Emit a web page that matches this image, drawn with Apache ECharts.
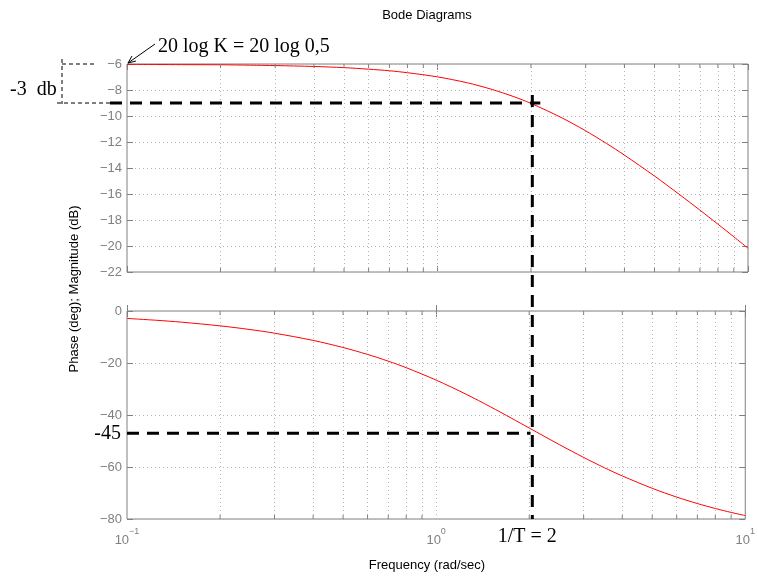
<!DOCTYPE html>
<html>
<head>
<meta charset="utf-8">
<script src="https://cdn.jsdelivr.net/npm/echarts@6/dist/echarts.min.js"></script>
<style>
html, body { margin: 0; padding: 0; background: #fff; }
#main { width: 758px; height: 577px; }
</style>
</head>
<body>
<div id="main"></div>
<script>
// frequency samples (rad/sec)
var freq = [0.1, 0.125, 0.15, 0.2, 0.25, 0.3, 0.4, 0.5, 0.6, 0.7, 0.8, 1, 1.25, 1.5, 1.75, 2, 2.5, 3, 3.5, 4, 5, 6, 7, 8, 9, 10];
var magnitude = [-6.03, -6.04, -6.05, -6.06, -6.09, -6.12, -6.19, -6.28, -6.40, -6.52, -6.67, -6.99, -7.45, -7.96, -8.49, -9.03, -10.11, -11.14, -12.11, -13.01, -14.62, -16.02, -17.24, -18.32, -19.29, -20.17];
var phase = [-2.86, -3.58, -4.29, -5.71, -7.13, -8.53, -11.31, -14.04, -16.70, -19.29, -21.80, -26.57, -32.01, -36.87, -41.19, -45.00, -51.34, -56.31, -60.26, -63.43, -68.20, -71.57, -74.05, -75.96, -77.47, -78.69];
// minor positions of the log axis (grid lines + small ticks)
var logGrid = [0.2, 0.3, 0.4, 0.5, 0.6, 0.7, 0.8, 0.9, 1, 2, 3, 4, 5, 6, 7, 8, 9];
// hand drawn annotation lines, as placed in the picture
var dcGain = -6;
var markFreq = 2.02;
var markMag = -9;
var markPhase = -47;

var gray = '#808080';
var gridGray = '#b4b4b4';
var sans = '"Liberation Sans", Arial, sans-serif';
var serif = '"Liberation Serif", "Times New Roman", serif';

function minus(v) { return String(v).replace('-', '\u2212'); }

function pairs(ys) {
	var out = [];
	for (var i = 0; i < freq.length; i++) out.push([freq[i], ys[i]]);
	return out;
}

var chart = echarts.init(document.getElementById('main'));

function xAx(grid, pos, labels) {
	return {
		type: 'log', logBase: 10, min: 0.1, max: 10, gridIndex: grid, position: pos,
		axisLine: { show: false },
		axisTick: { show: true, inside: true, length: 6, lineStyle: { color: gray } },
		axisLabel: {
			show: labels, color: gray, margin: 8, fontFamily: sans,
			formatter: function (v) {
				var e = Math.round(Math.log(v) / Math.LN10);
				return '{b|10}{s|' + minus(e) + '}';
			},
			rich: {
				b: { fontSize: 13, color: gray, fontFamily: sans, lineHeight: 18, verticalAlign: 'bottom' },
				s: { fontSize: 9, color: gray, fontFamily: sans, lineHeight: 20, verticalAlign: 'top' }
			}
		},
		splitLine: { show: false }
	};
}

function yAx(grid, pos, min, max, step, labels) {
	return {
		type: 'value', gridIndex: grid, position: pos, min: min, max: max, interval: step,
		axisLine: { show: false },
		axisTick: { show: true, inside: true, length: 6, lineStyle: { color: gray } },
		axisLabel: { show: labels, color: gray, fontSize: 13, fontFamily: sans, margin: 5, formatter: minus },
		splitLine: { show: labels, lineStyle: { color: gridGray, type: [1, 3], width: 1 } }
	};
}

function gridSeries(idx) {
	return {
		type: 'line', xAxisIndex: idx * 2, yAxisIndex: idx * 2, data: [], silent: true,
		markLine: {
			silent: true, symbol: 'none', label: { show: false }, animation: false,
			lineStyle: { color: gridGray, type: [1, 3], width: 1 },
			data: logGrid.map(function (f) { return { xAxis: f }; })
		}
	};
}

chart.setOption({
	animation: false,
	grid: [
		{ left: 127, right: 10, top: 64, height: 208, show: true, borderColor: gray, borderWidth: 1, backgroundColor: 'transparent' },
		{ left: 127, right: 10, top: 311, height: 208, show: true, borderColor: gray, borderWidth: 1, backgroundColor: 'transparent' }
	],
	xAxis: [xAx(0, 'bottom', false), xAx(0, 'top', false), xAx(1, 'bottom', true), xAx(1, 'top', false)],
	yAxis: [yAx(0, 'left', -22, -6, 2, true), yAx(0, 'right', -22, -6, 2, false),
		yAx(1, 'left', -80, 0, 20, true), yAx(1, 'right', -80, 0, 20, false)],
	series: [
		gridSeries(0),
		gridSeries(1),
		{ name: 'Magnitude', type: 'line', xAxisIndex: 0, yAxisIndex: 0, data: pairs(magnitude), showSymbol: false, smooth: 0.3, z: 5,
			lineStyle: { color: '#ff0000', width: 1 } },
		{ name: 'Phase', type: 'line', xAxisIndex: 2, yAxisIndex: 2, data: pairs(phase), showSymbol: false, smooth: 0.3, z: 5,
			lineStyle: { color: '#ff0000', width: 1 } }
	]
});

// annotations placed from the axes' own scales
var pDc = chart.convertToPixel({ seriesIndex: 2 }, [0.1, dcGain]);
var pMag = chart.convertToPixel({ seriesIndex: 2 }, [markFreq, markMag]);
var pPh = chart.convertToPixel({ seriesIndex: 3 }, [markFreq, markPhase]);
var pLow = chart.convertToPixel({ seriesIndex: 3 }, [markFreq, -80]);
var left = pDc[0];
var thick = { stroke: '#000', lineWidth: 3, lineDash: [12, 8] };
var thin = { stroke: '#000', lineWidth: 1, lineDash: [4, 3] };

function line(x1, y1, x2, y2, style) {
	return { type: 'line', shape: { x1: x1, y1: y1, x2: x2, y2: y2 }, style: style, silent: true, z: 10 };
}
function text(t, x, y, size, font, align) {
	return { type: 'text', x: x, y: y, silent: true, z: 10,
		style: { text: t, fontSize: size, fontFamily: font, fill: '#000', align: align, verticalAlign: 'middle' } };
}

var extras = [];
// minor ticks on the log axes (top and bottom of each panel)
[[2, -6, -22], [3, 0, -80]].forEach(function (g) {
	logGrid.forEach(function (f) {
		if (f === 1) return;
		var top = chart.convertToPixel({ seriesIndex: g[0] }, [f, g[1]]);
		var bot = chart.convertToPixel({ seriesIndex: g[0] }, [f, g[2]]);
		extras.push(line(top[0], top[1], top[0], top[1] + 4, { stroke: gray, lineWidth: 1 }));
		extras.push(line(bot[0], bot[1], bot[0], bot[1] - 4, { stroke: gray, lineWidth: 1 }));
	});
});

chart.setOption({
	graphic: extras.concat([
		line(left - 17, pMag[1], pMag[0] + 8, pMag[1], thick),
		line(pMag[0], pMag[1] - 8, pMag[0], pLow[1], thick),
		line(left, pPh[1], pPh[0], pPh[1], thick),
		line(left - 70, pMag[1], left - 17, pMag[1], thin),
		line(left - 65, pDc[1], left - 30, pDc[1], thin),
		line(left - 65, pDc[1] - 5, left - 65, pMag[1] + 1, thin),
		line(left + 28, pDc[1] - 20, left + 1, pDc[1] - 1, { stroke: '#000', lineWidth: 1 }),
		{ type: 'polyline', silent: true, z: 10,
			shape: { points: [[left + 5, pDc[1] - 8], [left + 1, pDc[1] - 1], [left + 9, pDc[1] - 3]] },
			style: { stroke: '#000', lineWidth: 1, fill: null } },
		text('20 log K = 20 log 0,5', left + 31, pDc[1] - 17, 20, serif, 'left'),
		text('-3  db', 10, pDc[1] + 26, 20, serif, 'left'),
		text('-45', left - 6, pPh[1] + 1, 20, serif, 'right'),
		text('1/T = 2', pMag[0] - 5, pLow[1] + 18, 20, serif, 'center'),
		text('Bode Diagrams', 427, 15, 13, sans, 'center'),
		text('Frequency (rad/sec)', 427, 565, 13, sans, 'center'),
		{ type: 'text', x: 74, y: 289, rotation: Math.PI / 2, silent: true, z: 10,
			style: { text: 'Phase (deg); Magnitude (dB)', fontSize: 13, fontFamily: sans, fill: '#000', align: 'center', verticalAlign: 'middle' } }
	])
});
</script>
</body>
</html>
